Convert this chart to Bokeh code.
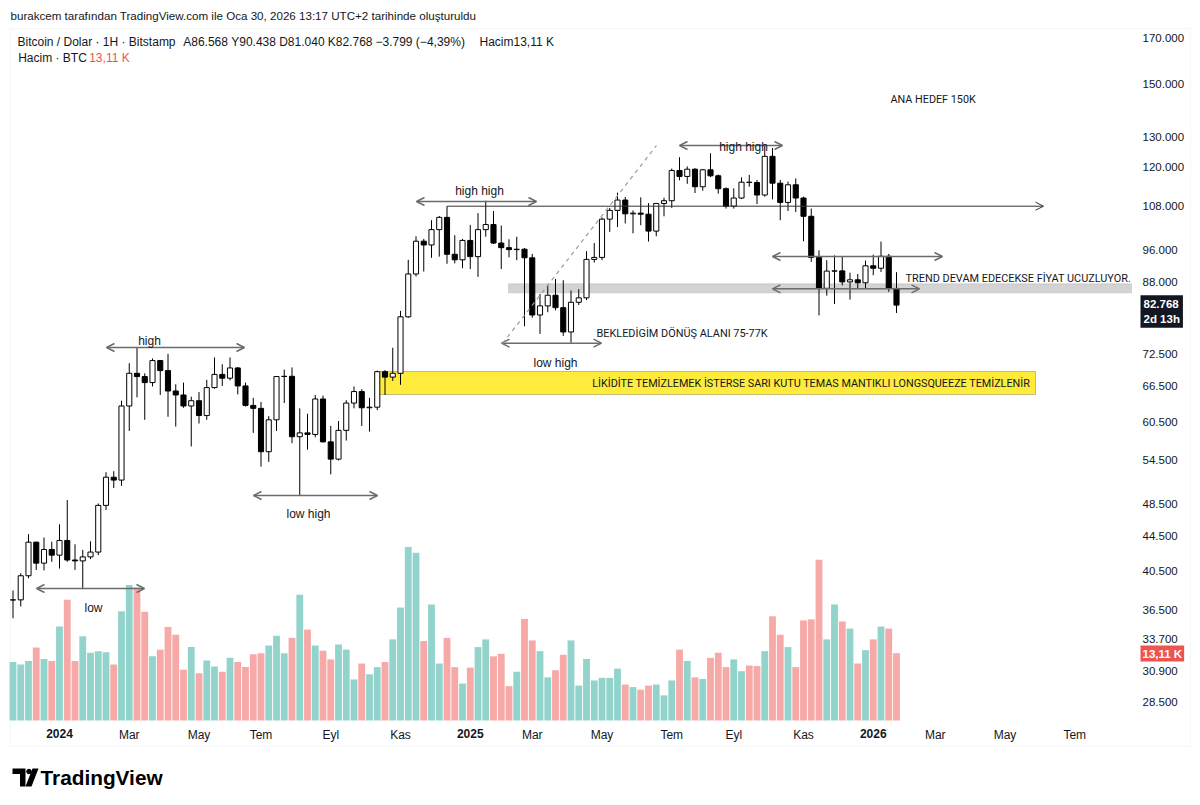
import math
from bokeh.plotting import figure
from bokeh.models import (Range1d, LinearScale, FixedTicker, CustomJSTickFormatter, Label,
                          Arrow, OpenHead, BoxAnnotation, PolyAnnotation, ColumnDataSource)
from bokeh.embed import file_html
from bokeh.resources import INLINE

# ---------------- data (weekly BTC/USD, Bitstamp, 20 Nov 2023 .. 26 Jan 2026) ----------------
opens = [37450, 37460, 39970, 43750, 41350, 42900, 42250, 43950, 41700, 41600,
         42050, 42600, 48300, 52100, 51700, 63100, 68900, 68300, 67200, 71300,
         69400, 65700, 65000, 63100, 64000, 61500, 66300, 68700, 68000, 69900,
         66600, 63200, 62700, 55800, 60800, 68300, 68350, 58100, 58700, 58450,
         64300, 57300, 54700, 59100, 63600, 65600, 62800, 62900, 69200, 68200,
         68900, 80200, 90000, 98300, 97300, 101400, 104800, 94900, 93500, 98500,
         94300, 101400, 102800, 97800, 96600, 96100, 96200, 94000, 80600, 82600,
         85000, 82200, 77000, 83400, 84400, 93600, 94100, 104300, 106800, 109800,
         105800, 106000, 105700, 101000, 108800, 109600, 118900, 117000, 119300, 113800,
         119100, 117200, 113200, 108000, 110400, 115200, 115100, 111300, 123500, 114900,
         109100, 114400, 110400, 105100, 94100, 86600, 90700, 90750, 88100, 88600,
         87900, 92000, 91400, 94400, 86568]
highs = [38420, 40250, 44700, 43800, 44300, 43800, 45900, 49000, 43500, 42850,
         43850, 48550, 52800, 52950, 64000, 70800, 73800, 68900, 71700, 71400,
         72600, 66900, 67200, 64700, 65500, 67700, 71900, 70600, 71900, 70100,
         67200, 64500, 63800, 61400, 68400, 69600, 70000, 62700, 61800, 65000,
         64900, 59800, 60600, 64100, 66500, 66000, 64500, 69400, 69500, 73800,
         81500, 93500, 99600, 98900, 104000, 105200, 108000, 99900, 98900, 102700,
         106000, 109600, 106600, 102500, 98800, 99500, 96500, 95000, 85300, 87400,
         88800, 88500, 86100, 86400, 95700, 97800, 104800, 107500, 112000, 110700,
         106800, 110600, 108900, 108500, 110500, 119500, 123200, 120200, 119600, 119400,
         124500, 117600, 113600, 113300, 116700, 117500, 115900, 127000, 126300, 115900,
         115400, 116400, 110800, 107300, 95900, 93400, 94600, 94400, 90300, 90000,
         93300, 94800, 98200, 95000, 90438]
lows = [35650, 36800, 39700, 40600, 40550, 41500, 40750, 41500, 40600, 38550,
        41800, 42250, 47700, 50600, 50900, 59000, 64600, 60800, 66500, 65000,
        61300, 59700, 62800, 56600, 60200, 60800, 66100, 66600, 67600, 65100,
        63000, 58700, 53600, 54300, 59000, 63600, 57100, 49600, 56100, 58000,
        57200, 52500, 54500, 57500, 62700, 59800, 58900, 62400, 65000, 67500,
        66800, 80000, 89400, 90600, 94000, 94300, 92500, 92600, 91400, 91200,
        89300, 99500, 97600, 91200, 94100, 93400, 78200, 80000, 76600, 81200,
        81600, 76200, 74800, 82800, 83900, 92800, 93400, 100800, 102100, 103100,
        100400, 102600, 98200, 99600, 105100, 107500, 115800, 114700, 111900, 112600,
        116800, 111700, 107300, 107300, 110100, 113800, 108600, 110800, 110000, 104000,
        106600, 106300, 98300, 93000, 80500, 84900, 83000, 87300, 84000, 86500,
        86600, 89700, 90500, 85800, 81040]
closes = [37460, 39970, 43750, 41350, 42900, 42250, 43950, 41700, 41600, 42050,
          42600, 48300, 52100, 51700, 63100, 68900, 68300, 67200, 71300, 69400,
          65700, 65000, 63100, 64000, 61500, 66300, 68700, 68000, 69900, 66600,
          63200, 62700, 55800, 60800, 68300, 68350, 58100, 58700, 58450, 64300,
          57300, 54700, 59100, 63600, 65600, 62800, 62900, 69200, 68200, 68900,
          80200, 90000, 98300, 97300, 101400, 104800, 94900, 93500, 98500, 94300,
          101400, 102800, 97800, 96600, 96100, 96200, 94000, 80600, 82600, 85000,
          82200, 77000, 83400, 84400, 93600, 94100, 104300, 106800, 109800, 105800,
          106000, 105700, 101000, 108800, 109600, 118900, 117000, 119300, 113800, 119100,
          117200, 113200, 108000, 110400, 115200, 115100, 111300, 123500, 114900, 109100,
          114400, 110400, 105100, 94100, 86600, 90700, 90750, 88100, 88600, 87900,
          92000, 91400, 94400, 86567, 82768]
volume_k = [11.4, 10.9, 11.6, 14.2, 12.0, 11.6, 18.3, 23.5, 11.6, 16.4,
            13.2, 13.5, 13.3, 10.9, 21.3, 26.4, 25.9, 21.2, 12.5, 13.8,
            18.2, 16.7, 9.9, 14.3, 9.2, 11.7, 10.5, 9.5, 12.2, 11.4,
            10.4, 12.9, 13.1, 14.6, 16.5, 13.1, 16.1, 24.5, 17.7, 14.6,
            13.6, 11.9, 14.8, 13.8, 8.0, 11.1, 9.0, 10.4, 11.4, 15.8,
            22.0, 33.8, 32.7, 15.5, 22.6, 11.1, 16.1, 10.4, 7.2, 10.3,
            14.3, 15.8, 12.5, 13.0, 6.7, 9.5, 19.8, 15.6, 13.5, 8.4,
            9.8, 12.8, 15.6, 6.8, 12.0, 7.8, 8.3, 8.3, 10.1, 7.0,
            6.5, 6.0, 6.8, 7.0, 4.9, 7.8, 13.8, 11.6, 8.4, 8.1,
            12.2, 13.2, 10.4, 11.9, 9.6, 10.7, 10.6, 13.5, 20.3, 16.7,
            14.3, 10.4, 19.5, 19.7, 31.3, 15.8, 22.6, 19.3, 17.9, 11.1,
            13.7, 15.8, 18.3, 17.9, 13.11]

time_tick_index = [6, 15, 24, 32, 41, 50, 59, 67, 76, 85, 93, 102, 111, 119, 128, 137]
time_tick_labels = ["2024", "Mar", "May", "Tem", "Eyl", "Kas", "2025", "Mar", "May", "Tem",
                    "Eyl", "Kas", "2026", "Mar", "May", "Tem"]
year_ticks = {"2024", "2025", "2026"}
price_ticks = [170000, 150000, 130000, 120000, 108000, 96000, 88000, 72500, 66500, 60500,
               54500, 48500, 44500, 40500, 36500, 33700, 30900, 28500]

# ---------------- layout helpers (canvas pixel -> data, for drawings only) ----------------
W, H = 1200, 805
BAR_PX = 7.75
X0_PX = 12.5
LN_TOP = 12.0436
PX_PER_LN = 371.8


def X(px):
    return (px - X0_PX) / BAR_PX


def Y(py):
    return math.exp(LN_TOP - (py - 37) / PX_PER_LN)


FONT = "Liberation Sans"
CAPS = "Roboto"
DARK = "#131722"

# the plotting frame spans the whole canvas; axes draw their labels inside it
p = figure(width=W, height=H, y_axis_type="log", title=None,
           x_range=Range1d(X(0), X(W)), y_range=Range1d(Y(H), Y(0)),
           y_axis_location="right", output_backend="svg", toolbar_location=None,
           min_border_left=0, min_border_right=0, min_border_top=0, min_border_bottom=0)
p.outline_line_color = None
p.grid.visible = False
p.background_fill_color = "white"
p.border_fill_color = "white"

# chart border
p.add_layout(BoxAnnotation(left=X(10), right=X(1190), top=Y(28), bottom=Y(746),
                           fill_color=None, line_color="#e0e3eb", line_width=1, level="underlay"))

# volume on its own linear scale (base line at y=720 px)
VOL_PX = 0.1948
p.extra_y_ranges = {"vol": Range1d(-(H - 720) * VOL_PX, 720 * VOL_PX)}
p.extra_y_scales = {"vol": LinearScale()}

idx = list(range(len(opens)))
up = [c >= o for o, c in zip(opens, closes)]
vol_src = ColumnDataSource(dict(x=idx, v=volume_k,
                                c=["#92d3cc" if u else "#f7a9a7" for u in up]))
p.vbar(x="x", top="v", bottom=0, width=0.88, fill_color="c", line_color=None,
       source=vol_src, y_range_name="vol")

# drawings beneath candles
p.add_layout(BoxAnnotation(left=X(377), right=X(1035), bottom=Y(394), top=Y(371),
                           fill_color="#ffeb3b", fill_alpha=1.0, line_color="#3a3a2a",
                           line_width=1, level="underlay"))
p.add_layout(BoxAnnotation(left=X(508), right=X(1131), bottom=Y(292.3), top=Y(283.3),
                           fill_color="#d3d3d3", fill_alpha=1.0, line_color="#979797",
                           line_width=1, level="underlay"))

# candles
c_src = ColumnDataSource(dict(
    x=idx, o=opens, h=highs, l=lows, c=closes,
    top=[max(o, c) for o, c in zip(opens, closes)],
    bot=[min(o, c) for o, c in zip(opens, closes)],
    fill=["white" if u else "black" for u in up]))
p.segment(x0="x", y0="l", x1="x", y1="h", source=c_src, line_color="black", line_width=1)
p.vbar(x="x", top="top", bottom="bot", width=0.66, fill_color="fill", line_color="black",
       line_width=1, source=c_src)

# ---------------- axes ----------------
ya = p.yaxis[0]
ya.ticker = FixedTicker(ticks=price_ticks, minor_ticks=[])
ya.formatter = CustomJSTickFormatter(code=r"""
const s = Math.round(tick).toString();
return s.replace(/\B(?=(\d{3})+(?!\d))/g, ".");
""")
ya.axis_line_color = None
ya.major_tick_line_color = None
ya.minor_tick_line_color = None
ya.major_tick_out = 0
ya.major_tick_in = 0
ya.major_label_standoff = 1142 - W
ya.major_label_text_font = FONT
ya.major_label_text_font_size = "11.5px"
ya.major_label_text_color = DARK

xa = p.xaxis[0]
xa.ticker = FixedTicker(ticks=time_tick_index, minor_ticks=[])
xa.major_label_overrides = {i: ("" if l in year_ticks else l)
                            for i, l in zip(time_tick_index, time_tick_labels)}
xa.axis_line_color = None
xa.major_tick_line_color = None
xa.minor_tick_line_color = None
xa.major_tick_out = 0
xa.major_tick_in = 0
xa.major_label_standoff = 727 - H
xa.major_label_text_font = FONT
xa.major_label_text_font_size = "12px"
xa.major_label_text_color = DARK

for i, l in zip(time_tick_index, time_tick_labels):
    if l in year_ticks:
        p.add_layout(Label(x=i, y=Y(733), text=l, text_align="center", text_baseline="middle",
                           text_font=FONT, text_font_size="12px", text_font_style="bold",
                           text_color=DARK))


# ---------------- annotations ----------------
def lab(x, y, text, size="12px", font=FONT, align="left", color=DARK, style="normal", **kw):
    p.add_layout(Label(x=x, y=y, text=text, text_align=align, text_baseline="middle",
                       text_font=font, text_font_size=size, text_color=color,
                       text_font_style=style, **kw))


ARROW_C = "#6b6b6b"


def arrow2(x0, x1, y):
    p.add_layout(Arrow(x_start=x0, y_start=y, x_end=x1, y_end=y,
                       start=OpenHead(size=8, line_color=ARROW_C, line_width=1.5),
                       end=OpenHead(size=8, line_color=ARROW_C, line_width=1.5),
                       line_color=ARROW_C, line_width=1.5))


arrow2(X(36), X(144), Y(588))
lab(X(93), Y(607), "low", align="center")
arrow2(X(106), X(244), Y(347))
lab(X(149), Y(340), "high", align="center")
arrow2(X(253), X(377), Y(495))
lab(X(308), Y(513), "low high", align="center")
arrow2(X(416), X(536), Y(201))
lab(X(479), Y(190), "high high", align="center")
arrow2(X(679), X(782), Y(145))
lab(X(743), Y(146), "high high", align="center")
arrow2(X(501), X(601), Y(342.7))
lab(X(555), Y(362), "low high", align="center")
arrow2(X(772), X(942), Y(256))
arrow2(X(772), X(919), Y(288.3))

# long resistance line
p.add_layout(Arrow(x_start=56, y_start=108000, x_end=X(1043), y_end=108000, start=None,
                   end=OpenHead(size=8, line_color="#333333", line_width=1),
                   line_color="#333333", line_width=1))
# dashed trend line
p.add_layout(Arrow(x_start=X(502), y_start=Y(343), x_end=X(656), y_end=Y(145), start=None, end=None,
                   line_color="#9a9a9a", line_width=1.2, line_dash="4 4"))

lab(X(596), Y(333), "BEKLEDİGİM DÖNÜŞ ALANI 75-77K", size="10.9px", font=CAPS)
lab(X(905), Y(278), "TREND DEVAM EDECEKSE FİYAT UCUZLUYOR.", size="10.9px", font=CAPS)
lab(X(1030), Y(383), "LİKİDİTE TEMİZLEMEK İSTERSE SARI KUTU TEMAS MANTIKLI LONGSQUEEZE TEMİZLENİR",
    size="10.8px", font=CAPS, align="right")
lab(X(890), Y(99), "ANA HEDEF 150K", size="10.8px", font=CAPS)

# header
lab(X(10), Y(15), "burakcem tarafından TradingView.com ile Oca 30, 2026 13:17 UTC+2 tarihinde oluşturuldu",
    size="11.6px")
lab(X(17), Y(41), "Bitcoin / Dolar · 1H · Bitstamp", size="12px")
lab(X(182.7), Y(41), "A86.568", size="12px")
lab(X(230.7), Y(41), "Y90.438", size="12px")
lab(X(278.7), Y(41), "D81.040", size="12px")
lab(X(327.3), Y(41), "K82.768", size="12px")
lab(X(375), Y(41), "−3.799 (−4,39%)", size="12px")
lab(X(479), Y(41), "Hacim13,11 K", size="12px")
lab(X(17.7), Y(57), "Hacim · BTC", size="12px")
lab(X(88.7), Y(57), "13,11 K", size="12px", color="#ef5350")

# price-axis tags
lab(X(1140), Y(311), "82.768\n2d 13h", size="11.5px", color="white", style="bold",
    background_fill_color=DARK, padding=3)
lab(X(1140), Y(653), "13,11 K", size="11.5px", color="white", style="bold",
    background_fill_color="#ef5350", padding=2)

# TradingView logo
lab(X(40), Y(777), "TradingView", size="20.8px", style="bold", color="black")
p.add_layout(PolyAnnotation(xs=[X(12), X(25), X(25), X(19.5), X(19.5), X(12)],
                            ys=[Y(768), Y(768), Y(786), Y(786), Y(773.5), Y(773.5)],
                            fill_color="black", fill_alpha=1, line_color=None))
circ_x = [X(28.5 + 2.8 * math.cos(t / 8 * 2 * math.pi)) for t in range(8)]
circ_y = [Y(771 + 2.8 * math.sin(t / 8 * 2 * math.pi)) for t in range(8)]
p.add_layout(PolyAnnotation(xs=circ_x, ys=circ_y, fill_color="black", fill_alpha=1, line_color=None))
p.add_layout(PolyAnnotation(xs=[X(32), X(38), X(31), X(25)], ys=[Y(768), Y(768), Y(786), Y(786)],
                            fill_color="black", fill_alpha=1, line_color=None))

open("out.html", "w").write(file_html(p, INLINE))
